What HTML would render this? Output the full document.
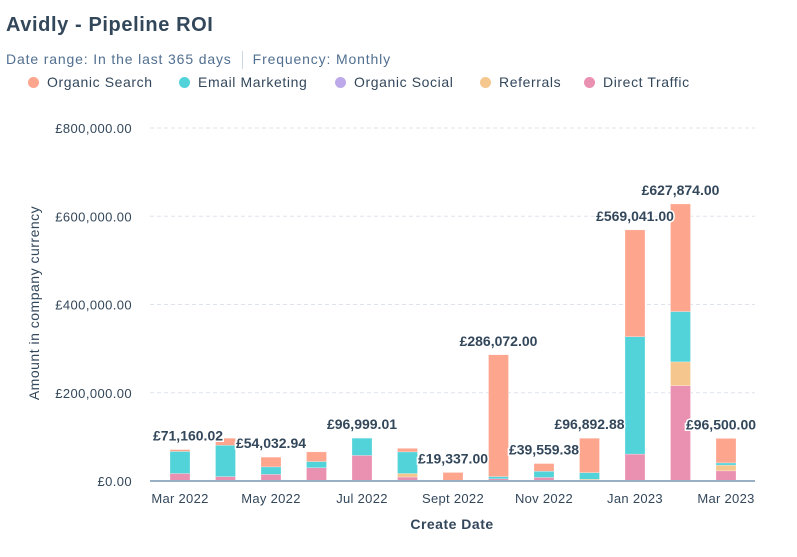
<!DOCTYPE html>
<html><head><meta charset="utf-8"><style>
body{margin:0;width:797px;height:557px;background:#fff;font-family:"Liberation Sans",sans-serif;overflow:hidden;position:relative}
#title{position:absolute;left:6px;top:14px;font-size:20px;font-weight:bold;color:#33475b;letter-spacing:0.6px}
#sub{position:absolute;left:6px;top:51px;font-size:14px;color:#516f90;letter-spacing:0.85px}
#sub .sep{display:inline-block;width:1px;height:18px;background:#cbd6e2;vertical-align:middle;margin:0 10px}
.li{position:absolute;top:74px;font-size:14px;color:#33475b;display:flex;align-items:center;letter-spacing:0.6px;white-space:nowrap}
.dot{width:11px;height:11px;border-radius:50%;margin-right:8px}
svg{position:absolute;left:0;top:0}
</style></head><body>
<div id="title">Avidly - Pipeline ROI</div>
<div id="sub">Date range: In the last 365 days<span class="sep"></span>Frequency: Monthly</div>
<div id="legend">
<div class="li" style="left:28px"><span class="dot" style="background:#fea58e"></span>Organic Search</div>
<div class="li" style="left:179px"><span class="dot" style="background:#51d3d9"></span>Email Marketing</div>
<div class="li" style="left:335px"><span class="dot" style="background:#bda9ea"></span>Organic Social</div>
<div class="li" style="left:480px"><span class="dot" style="background:#f5c78e"></span>Referrals</div>
<div class="li" style="left:584px"><span class="dot" style="background:#ea90b1"></span>Direct Traffic</div>
</div>
<svg id="chart" width="797" height="557"></svg>
<script>
const months=["Mar 2022","Apr 2022","May 2022","Jun 2022","Jul 2022","Aug 2022","Sept 2022","Oct 2022","Nov 2022","Dec 2022","Jan 2023","Feb 2023","Mar 2023"];
const directTraffic=[17000,10000,15000,30000,58000,9000,0,5000,8000,0,61000,216000,23000];
const referrals=[0,0,0,0,0,8000,0,0,0,4000,0,54000,13000];
const organicSocial=[0,0,0,0,0,0,0,0,0,0,0,0,0];
const emailMarketing=[50000,71000,17000,14000,39000,49000,0,5000,14000,15000,266000,114000,5000];
const organicSearch=[4160.02,16000,22032.94,22000,0,8000,19337,276072,17559.38,77892.88,242041,243874,55500];
const totalLabels=["£71,160.02","","£54,032.94","","£96,999.01","","£19,337.00","£286,072.00","£39,559.38","£96,892.88","£569,041.00","£627,874.00","£96,500.00"];
const yTicks=[0,200000,400000,600000,800000];
const yTickLabels=["£0.00","£200,000.00","£400,000.00","£600,000.00","£800,000.00"];
const xTickShown=[0,2,4,6,8,10,12];

const NS="http://www.w3.org/2000/svg",svg=document.getElementById('chart');
const y0=481,yTop=128,yMax=800000,x0=180,dx=45.5,bw=20;
const Y=v=>y0-(v/yMax)*(y0-yTop);
const X=i=>x0+i*dx;
function mk(t,a,txt){const e=document.createElementNS(NS,t);for(const k in a)e.setAttribute(k,a[k]);if(txt!=null)e.textContent=txt;svg.appendChild(e);return e;}
yTicks.forEach((v,i)=>{
  if(v>0){const g=mk('line',{x1:150,x2:755,y1:Y(v),y2:Y(v),stroke:'#dfe3eb','stroke-dasharray':'4,3'});
  
  }
  const t=mk('text',{x:132,y:Y(v)+5,'text-anchor':'end','font-size':13,fill:'#33475b','letter-spacing':0.4},yTickLabels[i]);
  
  
});
const series=[[directTraffic,'#ea90b1','direct'],[referrals,'#f5c78e','referrals'],[organicSocial,'#bda9ea','social'],[emailMarketing,'#51d3d9','email'],[organicSearch,'#fea58e','search']];
const labelDx=[8,0,0,0,0,0,0,0,0,0,0,0,-5];
const totals=[];
months.forEach((m,i)=>{
  let acc=0;
  series.forEach(([arr,c,n])=>{
    const v=arr[i];if(v<=0)return;
    const r=mk('rect',{x:X(i)-bw/2,y:Y(acc+v),width:bw,height:Y(acc)-Y(acc+v),fill:c,stroke:'#fff','stroke-opacity':0.5,'stroke-width':0.5});
    
    
    acc+=v;
  });
  totals.push(acc);
});
const ax=mk('line',{x1:150,x2:755,y1:y0,y2:y0,stroke:'#99afc4','stroke-width':2});


months.forEach((m,i)=>{
  if(totalLabels[i]){
    const t=mk('text',{x:X(i)+labelDx[i],y:Y(totals[i])-9,'text-anchor':'middle','font-size':14,'font-weight':'bold',fill:'#33475b',stroke:'#fff','stroke-width':3,'paint-order':'stroke'},totalLabels[i]);
    
    
  }
});
xTickShown.forEach(i=>{
  const t=mk('text',{x:X(i),y:503,'text-anchor':'middle','font-size':13,fill:'#33475b','letter-spacing':0.3},months[i]);
  
  
});
const xt=mk('text',{x:452,y:529,'text-anchor':'middle','font-size':14,'font-weight':'bold',fill:'#33475b','letter-spacing':0.5},'Create Date');


const yt=mk('text',{x:0,y:0,'text-anchor':'middle','font-size':14,fill:'#33475b','letter-spacing':0.5,transform:'translate(39,303) rotate(-90)'},'Amount in company currency');


</script>
</body></html>
